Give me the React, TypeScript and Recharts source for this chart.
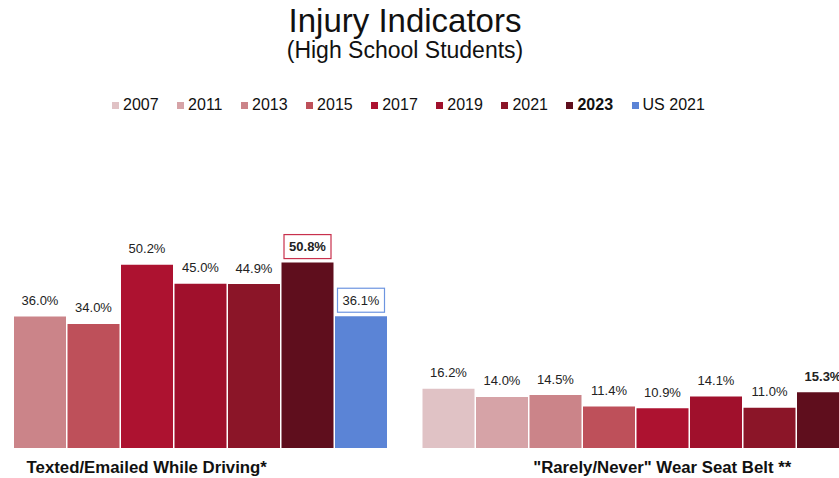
import { BarChart, Bar, XAxis, YAxis, LabelList } from "recharts";

const categories = ["Texted/Emailed While Driving*", '"Rarely/Never" Wear Seat Belt **'];
const seriesNames = ["2007", "2011", "2013", "2015", "2017", "2019", "2021", "2023", "US 2021"];
const v2007 = [null, 16.2];
const v2011 = [null, 14.0];
const v2013 = [36.0, 14.5];
const v2015 = [34.0, 11.4];
const v2017 = [50.2, 10.9];
const v2019 = [45.0, 14.1];
const v2021 = [44.9, 11.0];
const v2023 = [50.8, 15.3];
const vUS2021 = [36.1, null];

const seriesValues = [v2007, v2011, v2013, v2015, v2017, v2019, v2021, v2023, vUS2021];
const colors = ["#e0c2c5", "#d6a3a7", "#cb8489", "#be505a", "#ad1230", "#a0102c", "#8b1528", "#5f0e1d", "#5b84d6"];

const data = categories.map((cat, i) => {
  const row: Record<string, string | number | null> = { cat };
  seriesNames.forEach((s, k) => {
    row["s" + k] = seriesValues[k][i];
  });
  return row;
});

const FONT = '"Liberation Sans", Arial, sans-serif';

function makeLabel(k: number) {
  return (props: any) => {
    const { x, y, width, value, index } = props;
    if (value == null) return null;
    const cx = Number(x) + Number(width) / 2;
    const cy = Number(y) - 16;
    const bold = seriesNames[k] === "2023";
    let boxColor: string | null = null;
    if (seriesNames[k] === "2023" && index === 0) boxColor = "#c8304c";
    if (seriesNames[k] === "US 2021") boxColor = "#6d95e0";
    return (
      <g>
        {boxColor && (
          <rect x={cx - 23.5} y={cy - 12} width={47} height={24} fill="#fff" stroke={boxColor} strokeWidth={1.2} />
        )}
        <text
          x={cx}
          y={cy}
          textAnchor="middle"
          dominantBaseline="central"
          fontSize={13}
          fontWeight={bold ? 700 : 400}
          fontFamily={FONT}
          fill="#222"
        >
          {Number(value).toFixed(1) + "%"}
        </text>
      </g>
    );
  };
}

function CatTick(props: any) {
  const { x, y, payload } = props;
  return (
    <text x={x} y={Number(y) + 25} textAnchor="middle" fontSize={16.8} fontWeight={700} fontFamily={FONT} fill="#111">
      {payload.value}
    </text>
  );
}

export default function App() {
  return (
    <div
      style={{
        position: "absolute",
        left: 0,
        top: 0,
        width: 839,
        height: 478,
        overflow: "hidden",
        background: "#fff",
        fontFamily: FONT,
        color: "#111",
      }}
    >
      <div style={{ position: "absolute", left: 0, width: 810, top: 4, textAlign: "center", fontSize: 33, lineHeight: "33px" }}>
        Injury Indicators
      </div>
      <div style={{ position: "absolute", left: 0, width: 810, top: 39, textAlign: "center", fontSize: 23, lineHeight: "23px" }}>
        (High School Students)
      </div>
      <div style={{ position: "absolute", left: 112, top: 97, display: "flex", alignItems: "center", gap: 18.5 }}>
        {seriesNames.map((s, k) => (
          <div key={s} style={{ display: "flex", alignItems: "center", fontSize: 16, lineHeight: "16px" }}>
            <span style={{ display: "inline-block", width: 7, height: 7, background: colors[k], marginRight: 4 }} />
            <span style={{ fontWeight: s === "2023" ? 700 : 400 }}>{s}</span>
          </div>
        ))}
      </div>
      <div style={{ position: "absolute", left: -111, top: 0 }}>
        <BarChart
          width={1031}
          height={478}
          data={data}
          margin={{ top: 229, right: 0, bottom: 0, left: 0 }}
          barCategoryGap={18}
          barGap={1.5}
        >
          <XAxis dataKey="cat" axisLine={false} tickLine={false} tickSize={0} tickMargin={0} height={30} tick={<CatTick />} interval={0} />
          <YAxis hide domain={[0, 60]} />
          {seriesNames.map((s, k) => (
            <Bar key={s} dataKey={"s" + k} name={s} fill={colors[k]} isAnimationActive={false}>
              <LabelList dataKey={"s" + k} content={makeLabel(k)} />
            </Bar>
          ))}
        </BarChart>
      </div>
    </div>
  );
}
